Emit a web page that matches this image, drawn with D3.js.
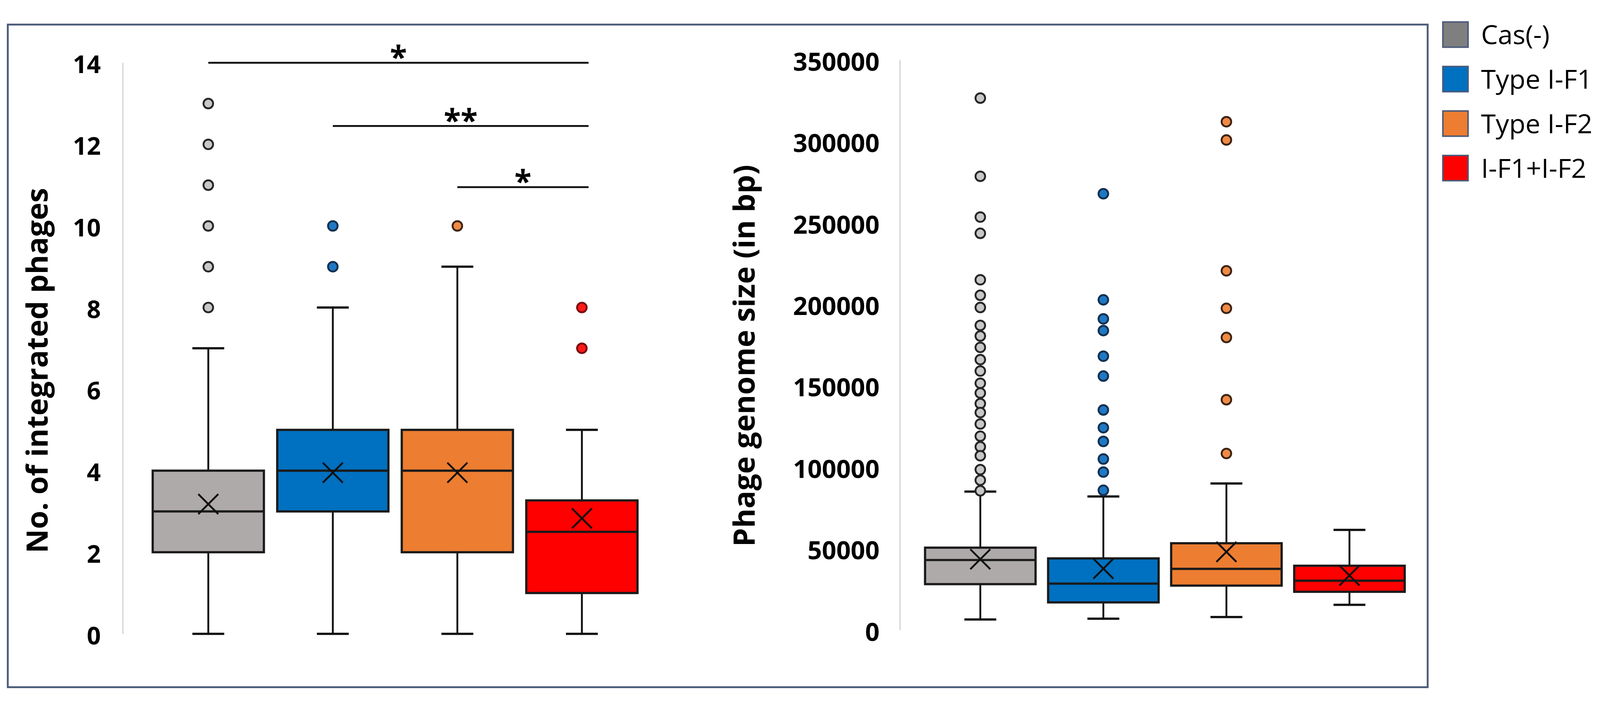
<!DOCTYPE html>
<html>
<head>
<meta charset="utf-8">
<script src="https://cdnjs.cloudflare.com/ajax/libs/d3/7.8.5/d3.min.js"></script>
<style>
  html, body { margin: 0; padding: 0; background: #fff; overflow: hidden; }
  svg { display: block; width: 100vw; height: 100vh; }
  text { font-family: 'Open Sans', sans-serif; }
</style>
</head>
<body>
<svg id="chart" viewBox="0 0 4317 1827" preserveAspectRatio="xMidYMid meet"></svg>
<script>
// categories shared by both panels
const categories = ['Cas(-)', 'Type I-F1', 'Type I-F2', 'I-F1+I-F2'];

// left panel: number of integrated phages
const phageMin = [0, 0, 0, 0];
const phageQ1 = [2, 3, 2, 1];
const phageMedian = [3, 4, 4, 2.5];
const phageQ3 = [4, 5, 5, 3.27];
const phageMax = [7, 8, 9, 5];
const phageMean = [3.18, 3.95, 3.95, 2.83];
const phageOutliers = [[8, 9, 10, 11, 12, 13], [9, 10], [10], [7, 8]];
const phageTicks = [0, 2, 4, 6, 8, 10, 12, 14];

// significance bars on the left panel
const sigFrom = ['Cas(-)', 'Type I-F1', 'Type I-F2'];
const sigTo = ['I-F1+I-F2', 'I-F1+I-F2', 'I-F1+I-F2'];
const sigLevel = [14, 12.45, 10.95];
const sigLabel = ['*', '**', '*'];

// right panel: phage genome size (bp)
const sizeMin = [6500, 7000, 8000, 15500];
const sizeQ1 = [28200, 17000, 27300, 23500];
const sizeMedian = [43000, 28500, 37600, 30300];
const sizeQ3 = [50600, 44000, 53300, 39500];
const sizeMax = [85000, 82000, 90000, 61500];
const sizeMean = [43500, 37700, 48000, 33500];
const sizeOutliers = [
    [326500, 278500, 253500, 243500, 215000, 205500, 198000, 187000, 180500, 173500, 166000, 159000,
     151500, 145500, 139000, 133500, 126500, 119000, 112500, 107000, 98500, 92000, 85500],
    [267800, 202700, 191000, 183800, 168100, 155900, 135100, 124200, 115800, 105000, 97000, 85800],
    [312000, 300800, 220500, 197500, 179600, 141400, 108400],
    []
];
const sizeTicks = [0, 50000, 100000, 150000, 200000, 250000, 300000, 350000];

// colours
const boxFill = ['#AEAAAA', '#0070C0', '#ED7D31', '#FF0000'];
const dotFill = ['#C8C8C8', '#1F78C4', '#F08A45', '#FF1A1A'];
const dotStroke = ['#262626', '#14304f', '#3b2414', '#7a0c0c'];
const legendFill = ['#7F7F7F', '#0070C0', '#ED7D31', '#FF0000'];

var svg = d3.select('#chart');

// outer frame
svg.append('rect')
    .attr('x', 21).attr('y', 17)
    .attr('width', 3831).attr('height', 1787)
    .attr('fill', 'none')
    .attr('stroke', '#4a5a7a')
    .attr('stroke-width', 5);

function buildStats(mins, q1s, meds, q3s, maxs, means, outs) {
    return categories.map(function(c, i) {
        return { cat: c, i: i, min: mins[i], q1: q1s[i], median: meds[i], q3: q3s[i],
                 max: maxs[i], mean: means[i], outliers: outs[i] };
    });
}

// draw one box plot panel
function drawPanel(x, y, stats, ticks, labelPad) {
    var g = svg.append('g');

    // y axis (light grey line, bold labels)
    var axis = g.append('g')
        .attr('transform', 'translate(' + (x.range()[0] - labelPad.axisGap) + ',0)')
        .call(d3.axisLeft(y).tickValues(ticks).tickSize(0).tickSizeOuter(0)
              .tickPadding(labelPad.pad).tickFormat(d3.format('d')));
    axis.select('.domain').attr('stroke', '#d9d9d9').attr('stroke-width', 4);
    axis.selectAll('text')
        .attr('font-family', "'Open Sans', sans-serif")
        .attr('font-weight', 700)
        .attr('font-size', labelPad.fontSize)
        .attr('fill', '#000')
        .attr('dy', '0.42em');

    var capHalf = 43;
    var items = g.selectAll('.item').data(stats).enter().append('g').attr('class', 'item');

    function cx(d) { return x(d.cat) + x.bandwidth() / 2; }

    // whiskers
    items.append('line')
        .attr('x1', cx).attr('x2', cx)
        .attr('y1', function(d) { return y(d.q3); })
        .attr('y2', function(d) { return y(d.max); })
        .attr('stroke', '#111').attr('stroke-width', 5);
    items.append('line')
        .attr('x1', cx).attr('x2', cx)
        .attr('y1', function(d) { return y(d.q1); })
        .attr('y2', function(d) { return y(d.min); })
        .attr('stroke', '#111').attr('stroke-width', 5);
    ['max', 'min'].forEach(function(k) {
        items.append('line')
            .attr('x1', function(d) { return cx(d) - capHalf; })
            .attr('x2', function(d) { return cx(d) + capHalf; })
            .attr('y1', function(d) { return y(d[k]); })
            .attr('y2', function(d) { return y(d[k]); })
            .attr('stroke', '#111').attr('stroke-width', 6);
    });

    // boxes
    items.append('rect')
        .attr('x', function(d) { return x(d.cat); })
        .attr('width', x.bandwidth())
        .attr('y', function(d) { return y(d.q3); })
        .attr('height', function(d) { return y(d.q1) - y(d.q3); })
        .attr('fill', function(d) { return boxFill[d.i]; })
        .attr('stroke', '#1a1a1a').attr('stroke-width', 6);

    // median
    items.append('line')
        .attr('x1', function(d) { return x(d.cat); })
        .attr('x2', function(d) { return x(d.cat) + x.bandwidth(); })
        .attr('y1', function(d) { return y(d.median); })
        .attr('y2', function(d) { return y(d.median); })
        .attr('stroke', '#1a1a1a').attr('stroke-width', 6);

    // mean marker (x)
    var m = 27;
    items.append('path')
        .attr('d', function(d) {
            var px = cx(d), py = y(d.mean);
            return 'M' + (px - m) + ',' + (py - m) + 'L' + (px + m) + ',' + (py + m) +
                   'M' + (px - m) + ',' + (py + m) + 'L' + (px + m) + ',' + (py - m);
        })
        .attr('fill', 'none')
        .attr('stroke', '#111').attr('stroke-width', 5);

    // outliers
    items.each(function(d) {
        d3.select(this).selectAll('circle').data(d.outliers).enter().append('circle')
            .attr('cx', cx(d))
            .attr('cy', function(v) { return y(v); })
            .attr('r', 13)
            .attr('fill', dotFill[d.i])
            .attr('stroke', dotStroke[d.i])
            .attr('stroke-width', 5);
    });

    return g;
}

// ---------- left panel ----------
var yLeft = d3.scaleLinear().domain([0, 14]).range([1660, 120]);
var xLeft = d3.scaleBand().domain(categories).range([394, 1738])
    .paddingInner(0.107).paddingOuter(0.0535);
var leftStats = buildStats(phageMin, phageQ1, phageMedian, phageQ3, phageMax, phageMean, phageOutliers);
drawPanel(xLeft, yLeft, leftStats, phageTicks, { axisGap: 63, pad: 59, fontSize: 66 });

svg.append('text')
    .attr('transform', 'translate(129,950) rotate(-90)')
    .attr('text-anchor', 'middle')
    .attr('font-weight', 700)
    .attr('font-size', 80)
    .text('No. of integrated phages');

// significance bars
sigLabel.forEach(function(lab, i) {
    var x1 = xLeft(sigFrom[i]) + xLeft.bandwidth() / 2;
    var x2 = xLeft(sigTo[i]) + xLeft.bandwidth() / 2 + 18;
    var ly = yLeft(sigLevel[i]);
    svg.append('line')
        .attr('x1', x1).attr('x2', x2)
        .attr('y1', ly).attr('y2', ly)
        .attr('stroke', '#111').attr('stroke-width', 5);
    svg.append('text')
        .attr('x', (x1 + x2) / 2)
        .attr('y', ly + 14)
        .attr('text-anchor', 'middle')
        .attr('font-weight', 700)
        .attr('font-size', 84)
        .text(lab);
});

// ---------- right panel ----------
var yRight = d3.scaleLinear().domain([0, 350000]).range([1650, 112]);
var xRight = d3.scaleBand().domain(categories).range([2479, 3807])
    .paddingInner(0.102).paddingOuter(0.051);
var rightStats = buildStats(sizeMin, sizeQ1, sizeMedian, sizeQ3, sizeMax, sizeMean, sizeOutliers);
drawPanel(xRight, yRight, rightStats, sizeTicks, { axisGap: 51, pad: 55, fontSize: 68 });

svg.append('text')
    .attr('transform', 'translate(2036,910) rotate(-90)')
    .attr('text-anchor', 'middle')
    .attr('font-weight', 700)
    .attr('font-size', 80)
    .text('Phage genome size (in bp)');

// ---------- legend ----------
var legend = svg.append('g');
categories.forEach(function(c, i) {
    var cy = 44 + i * 120;
    legend.append('rect')
        .attr('x', 3893).attr('y', cy - 34)
        .attr('width', 68).attr('height', 68)
        .attr('fill', legendFill[i])
        .attr('stroke', '#4a5a7a').attr('stroke-width', 4);
    legend.append('text')
        .attr('x', 3996).attr('y', cy)
        .attr('dy', '0.36em')
        .attr('font-size', 72)
        .attr('fill', '#000')
        .text(c);
});
</script>
</body>
</html>
